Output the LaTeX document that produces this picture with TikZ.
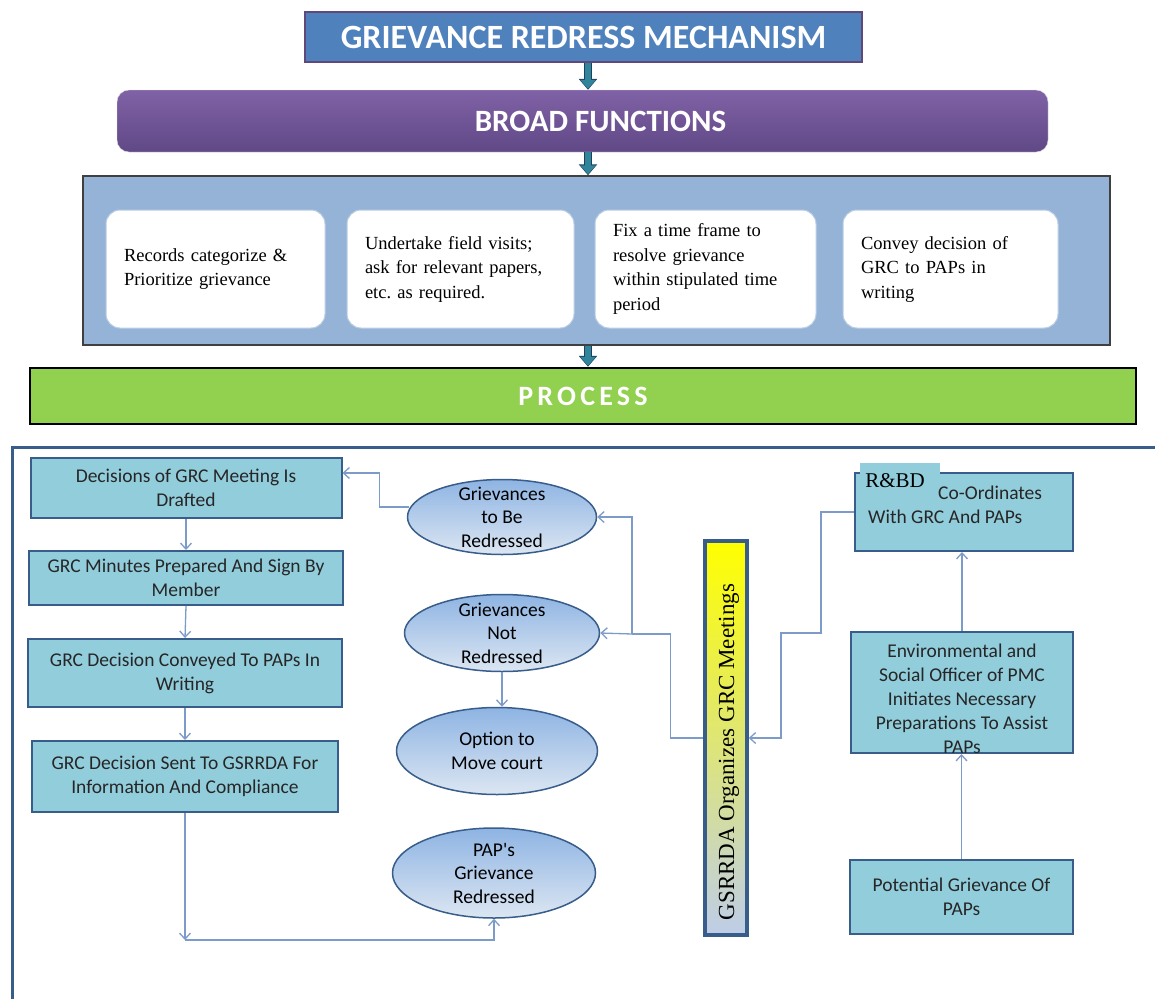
\documentclass[tikz,border=0pt]{standalone}
\usepackage{fontspec}
\setmainfont{Liberation Serif}
\newfontfamily\calibri{Carlito}
\usetikzlibrary{arrows.meta,shapes.geometric}
\frenchspacing

\definecolor{titleblue}{RGB}{79,129,189}
\definecolor{titleedge}{RGB}{96,73,122}
\definecolor{purpletop}{RGB}{128,98,166}
\definecolor{purplebot}{RGB}{96,72,134}
\definecolor{panelblue}{RGB}{149,179,215}
\definecolor{procgreen}{RGB}{146,208,80}
\definecolor{arrowteal}{RGB}{49,133,155}
\definecolor{arrowedge}{RGB}{31,63,95}
\definecolor{cardcyan}{RGB}{146,205,220}
\definecolor{cardedge}{RGB}{56,93,138}
\definecolor{linkblue}{RGB}{125,155,200}
\definecolor{ovaltop}{RGB}{142,180,227}
\definecolor{ovalbot}{RGB}{220,230,242}
\definecolor{barbot}{RGB}{190,205,232}
\definecolor{whiteedge}{RGB}{184,204,228}

\tikzset{
  headtext/.style={text=white, font=\calibri\bfseries\fontsize{31}{36}\selectfont},
  titlebox/.style={rectangle, fill=titleblue, draw=titleedge, line width=2.5pt,
    minimum width=557pt, minimum height=50pt, inner sep=0pt,
    text=white, font=\calibri\bfseries\fontsize{34}{40}\selectfont},
  broadbox/.style={rectangle, rounded corners=12pt, top color=purpletop, bottom color=purplebot,
    draw=black!15, minimum width=931pt, minimum height=62pt},
  panel/.style={rectangle, fill=panelblue, draw=black!75, line width=1.5pt,
    minimum width=1027pt, minimum height=169pt},
  funcbox/.style={rectangle, rounded corners=14pt, fill=white, draw=whiteedge, line width=1pt,
    minimum height=118pt, inner xsep=18pt, align=left,
    font=\fontsize{18.5}{24.5}\selectfont},
  processbox/.style={rectangle, fill=procgreen, draw=black, line width=2.5pt,
    minimum width=1106pt, minimum height=56pt, text=white,
    font=\calibri\bfseries\fontsize{28}{32}\selectfont\addfontfeature{LetterSpace=15}},
  arrowrim/.style={draw=arrowedge, line width=8.6pt, -{Triangle[length=11pt,width=18pt]}},
  arrowcore/.style={draw=arrowteal, line width=6.6pt, shorten >=1pt, -{Triangle[length=9pt,width=15pt]}},
  cardtext/.style={text=black!85, font=\calibri\fontsize{19.5}{24}\selectfont, align=center},
  stepcard/.style={rectangle, fill=cardcyan, draw=cardedge, line width=2pt, inner sep=0pt, cardtext},
  oval/.style={ellipse, top color=ovaltop, bottom color=ovalbot, draw=cardedge, line width=1.5pt, inner sep=0pt},
  ovaltext/.style={text=black, font=\calibri\fontsize{19.5}{23.5}\selectfont, align=center},
  meetbar/.style={rectangle, top color=yellow, bottom color=barbot, draw=cardedge, line width=3.5pt,
    minimum width=42pt, minimum height=394pt},
  flowline/.style={draw=linkblue, line width=1.3pt},
  flowlink/.style={flowline, -{Straight Barb[length=6pt,width=11pt]}},
}

\begin{document}
\begin{tikzpicture}[x=1pt,y=-1pt]
\useasboundingbox (0,0) rectangle (1155,998);

% Heading blocks
\node[titlebox] (title) at (583.5,37) {GRIEVANCE REDRESS MECHANISM};
\node[broadbox, label={[headtext,xshift=18pt]center:BROAD FUNCTIONS}] (broad) at (582.5,121) {};
\node[panel] (funcs) at (596.5,260.5) {};
\node[funcbox, text width=183pt] (f1) at (215.5,269) {Records categorize \&\\Prioritize grievance};
\node[funcbox, text width=191pt] (f2) at (460.5,269) {Undertake field visits;\\ask for relevant papers,\\etc. as required.};
\node[funcbox, text width=185pt] (f3) at (705.5,269) {Fix a time frame to\\resolve grievance\\within stipulated time\\period};
\node[funcbox, text width=179pt] (f4) at (950.5,269) {Convey decision of\\GRC to PAPs in\\writing};
\node[processbox] (process) at (583,396) {PROCESS};

% Block arrows down the spine
\coordinate (spine) at (588,0);
\foreach \a/\b in {title/broad,broad/funcs,funcs/process}{
  \draw[arrowrim] (\a.south -| spine) -- (\b.north -| spine);
  \draw[arrowcore] (\a.south -| spine) -- (\b.north -| spine);
}

% Process panel
\draw[line width=3pt, cardedge] (12,1010) |- (1170,447);

% Left column
\node[stepcard, minimum width=311pt, minimum height=60pt] (b1) at (186,488) {Decisions of GRC Meeting Is\\Drafted};
\node[stepcard, minimum width=314pt, minimum height=54pt] (b2) at (186,578) {GRC Minutes Prepared And Sign By\\Member};
\node[stepcard, minimum width=314pt, minimum height=68pt] (b3) at (185,673) {GRC Decision Conveyed To PAPs In\\Writing};
\node[stepcard, minimum width=306pt, minimum height=71pt] (b4) at (185,776.5) {GRC Decision Sent To GSRRDA For\\Information And Compliance};
\foreach \a/\b in {b1/b2,b2/b3,b3/b4}
  \draw[flowlink] (\a.south) -- (\b.north);

% Outcomes
\node[oval, minimum width=189pt, minimum height=75pt, label={[ovaltext]center:Grievances\\to Be\\Redressed}] (e1) at (502,517) {};
\node[oval, minimum width=195pt, minimum height=77pt, label={[ovaltext]center:Grievances\\Not\\Redressed}] (e2) at (502,633) {};
\node[oval, minimum width=201pt, minimum height=87pt, label={[ovaltext]center:Option to\\Move court}] (e3) at (497,751) {};
\node[oval, minimum width=203pt, minimum height=90pt, label={[ovaltext]center:PAP's\\Grievance\\Redressed}] (e4) at (494,873) {};

% GRC meetings
\node[meetbar] (bar) at (726,738) {};
\node[rotate=90, font=\fontsize{23}{26}\selectfont] (bartxt) at (729,752) {GSRRDA Organizes GRC Meetings};

% Right column
\node[stepcard, minimum width=218pt, minimum height=78pt] (r1) at (964,512) {};
\node[rectangle, fill=cardcyan, minimum width=80pt, minimum height=36pt, inner sep=0pt,
  font=\fontsize{21}{24}\selectfont] (rbd) at (900,481) {\raisebox{-5pt}{R\&BD}\hspace*{10pt}};
\node[cardtext, align=left, anchor=north west, inner sep=0pt] (r1txt) at (868,486) {\hspace*{70pt}Co-Ordinates\\With GRC And PAPs};
\node[stepcard, minimum width=222pt, minimum height=121pt,
  label={[cardtext,yshift=-6pt]center:Environmental and\\Social Officer of PMC\\Initiates Necessary\\Preparations To Assist\\PAPs}] (r2) at (962,692.5) {};
\node[stepcard, minimum width=223pt, minimum height=74pt] (r3) at (961.5,897) {Potential Grievance Of\\PAPs};

% Connectors
\draw[flowlink] ([xshift=2pt,yshift=10pt]e1.west) -- ++(-29,0) |- ([yshift=15pt]b1.east);
\coordinate (split) at (632,634);
\draw[flowline] (bar.west) -- ++(-33,0) |- (split);
\draw[flowlink] (split) |- (e1.east);
\draw[flowlink] (split) -- (e2.east);
\draw[flowlink] (e2.south) -- (e2.south |- e3.north);
\coordinate (low) at (185,940);
\draw[flowlink] (b4.south) -- (low);
\draw[flowlink] (low) -| (e4.south);
\draw[flowlink] (r1.west) -- ++(-33,0) |- (781,633) |- (bar.east);
\draw[flowlink] (r2.north) -- (r2.north |- r1.south);
\draw[flowlink] (r3.north) -- (r3.north |- r2.south);
\end{tikzpicture}
\end{document}
